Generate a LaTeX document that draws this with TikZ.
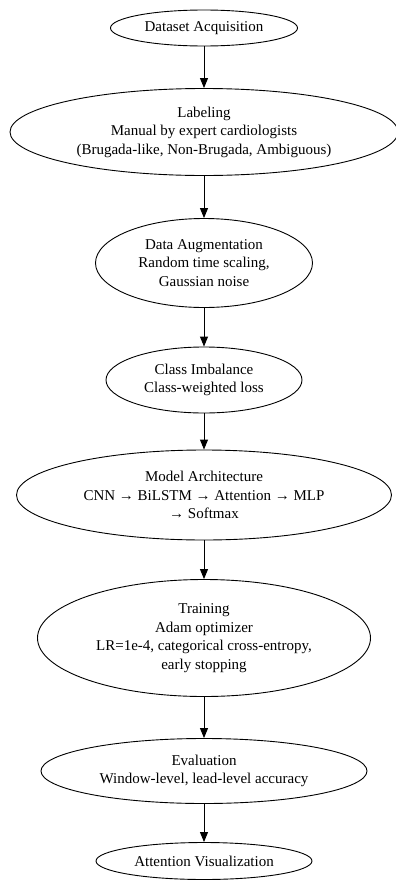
\documentclass[tikz,border=0pt]{standalone}
\usepackage{fontspec}
\setmainfont{Liberation Serif}
\usepackage{tikz}
\usetikzlibrary{arrows.meta,shapes.geometric}

\begin{document}
\begin{tikzpicture}[x=1pt, y=1pt,
  stage/.style={ellipse, draw=black, line width=0.9pt, align=center,
    inner xsep=-13pt, inner ysep=0pt,
    font=\fontsize{15}{18.5}\selectfont},
  arr/.style={-{Triangle[length=10pt, width=8pt]}, line width=0.9pt}]
\useasboundingbox (0,0) rectangle (396,-881);
% ---- pipeline stages ----
\node[stage, minimum width=187, minimum height=36] (acq) at (204,-28)
  {Dataset Acquisition};
\node[stage, minimum width=388, minimum height=87] (lab) at (204,-132)
  {Labeling\\ Manual by expert cardiologists\\ (Brugada-like, Non-Brugada, Ambiguous)};
\node[stage, minimum width=217, minimum height=89] (aug) at (204,-263)
  {Data Augmentation\\ Random time scaling,\\ Gaussian noise};
\node[stage, minimum width=196, minimum height=66] (imb) at (204,-380)
  {Class Imbalance\\ Class-weighted loss};
\node[stage, minimum width=375, minimum height=90] (arch) at (204,-495)
  {Model Architecture\\ CNN → BiLSTM → Attention → MLP\\ → Softmax};
\node[stage, minimum width=333, minimum height=117] (train) at (204,-638)
  {Training\\ Adam optimizer\\ LR=1e-4, categorical cross-entropy,\\ early stopping};
\node[stage, minimum width=326, minimum height=65] (eval) at (204,-771)
  {Evaluation\\ Window-level, lead-level accuracy};
\node[stage, minimum width=216, minimum height=37] (vis) at (204,-861)
  {Attention Visualization};
% ---- arrows ----
\draw[arr] (acq) -- (lab);
\draw[arr] (lab) -- (aug);
\draw[arr] (aug) -- (imb);
\draw[arr] (imb) -- (arch);
\draw[arr] (arch) -- (train);
\draw[arr] (train) -- (eval);
\draw[arr] (eval) -- (vis);
\end{tikzpicture}
\end{document}
